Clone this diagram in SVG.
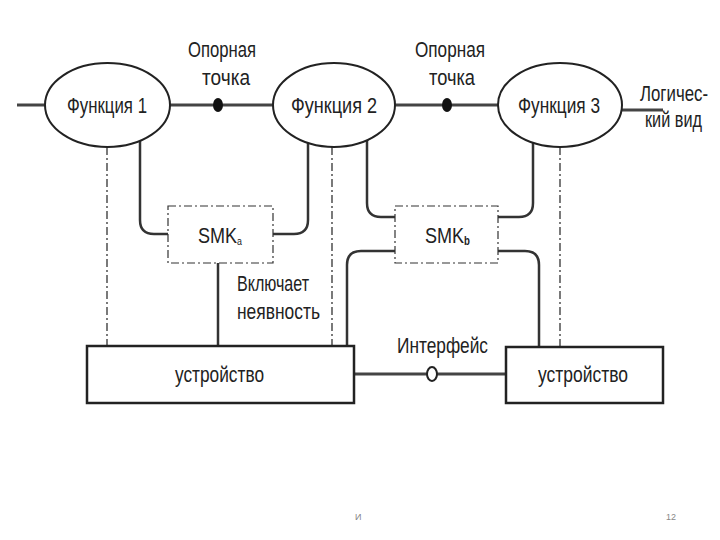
<svg xmlns="http://www.w3.org/2000/svg" width="720" height="540" viewBox="0 0 720 540">
<style>
.t{font-family:"Liberation Sans",Arial,sans-serif;font-size:22.5px;fill:#222;}
.node{fill:#fff;stroke:#222;stroke-width:2;}
.dev{fill:#fff;stroke:#222;stroke-width:2.5;}
.smk{fill:#fff;stroke:#333;stroke-width:1.2;stroke-dasharray:8 3 2 3;}
.w{fill:none;stroke:#333;stroke-width:2.5;}
.main{fill:none;stroke:#444;stroke-width:3;}
.dd{fill:none;stroke:#333;stroke-width:1.3;stroke-dasharray:8 3 2 3;}
.foot{font-family:"Liberation Sans",Arial,sans-serif;font-size:9px;fill:#888;}
</style>
<rect width="720" height="540" fill="#fff"/>
<g id="connectors">
<path class="main" d="M17,105 H45 M170,105 H273 M395,105 H498 M622,110 H663"/>
<ellipse cx="218" cy="105" rx="5" ry="7" fill="#111"/>
<ellipse cx="447" cy="105" rx="5" ry="7" fill="#111"/>
<path class="dd" d="M107,147 V346 M332,147 V346 M560,147 V347"/>
<path class="w" d="M140,141 V220 Q140,234 154,234 H168"/>
<path class="w" d="M273,234 H294 Q308,234 308,220 V143"/>
<path class="w" d="M367,140 V203 Q367,217 381,217 H395"/>
<path class="w" d="M498,217 H519 Q533,217 533,203 V143"/>
<path class="w" d="M395,251 H361 Q347,251 347,265 V346"/>
<path class="w" d="M498,251 H525 Q539,251 539,265 V347"/>
<path class="w" d="M218,263 V346"/>
<path class="main" d="M354,374 H427 M437,374 H506"/>
<ellipse cx="432" cy="374" rx="5" ry="7" fill="#fff" stroke="#222" stroke-width="2"/>
</g>
<g id="labels">
<text class="t" x="188" y="57" textLength="68" lengthAdjust="spacingAndGlyphs">Опорная</text>
<text class="t" x="202" y="85" textLength="48" lengthAdjust="spacingAndGlyphs">точка</text>
<text class="t" x="415" y="57" textLength="70" lengthAdjust="spacingAndGlyphs">Опорная</text>
<text class="t" x="429" y="85" textLength="46" lengthAdjust="spacingAndGlyphs">точка</text>
<text class="t" x="640" y="101" textLength="68" lengthAdjust="spacingAndGlyphs">Логичес-</text>
<text class="t" x="645" y="127" textLength="57" lengthAdjust="spacingAndGlyphs">кий вид</text>
<text class="t" x="237" y="291" textLength="72" lengthAdjust="spacingAndGlyphs">Включает</text>
<text class="t" x="237" y="319" textLength="83" lengthAdjust="spacingAndGlyphs">неявность</text>
<text class="t" x="397" y="353" textLength="91" lengthAdjust="spacingAndGlyphs">Интерфейс</text>
</g>
<g id="f1"><ellipse class="node" cx="107.5" cy="105" rx="62.5" ry="42"/>
<text class="t" x="67" y="113" textLength="80" lengthAdjust="spacingAndGlyphs">Функция 1</text></g>
<g id="f2"><ellipse class="node" cx="334" cy="105" rx="61" ry="42"/>
<text class="t" x="291" y="113" textLength="86" lengthAdjust="spacingAndGlyphs">Функция 2</text></g>
<g id="f3"><ellipse class="node" cx="560" cy="105" rx="62" ry="42"/>
<text class="t" x="518" y="113" textLength="82" lengthAdjust="spacingAndGlyphs">Функция 3</text></g>
<g id="smka"><rect class="smk" x="168" y="206" width="105" height="57"/>
<text class="t" x="198" y="243" textLength="44" lengthAdjust="spacingAndGlyphs">SMK<tspan dy="2" style="font-size:11px">a</tspan></text></g>
<g id="smkb"><rect class="smk" x="395" y="206" width="103" height="57"/>
<text class="t" x="425" y="243" textLength="45" lengthAdjust="spacingAndGlyphs">SMK<tspan dy="2" style="font-size:12px;font-weight:bold">b</tspan></text></g>
<g id="dev1"><rect class="dev" x="87" y="346" width="267" height="57"/>
<text class="t" x="175" y="382" textLength="89" lengthAdjust="spacingAndGlyphs">устройство</text></g>
<g id="dev2"><rect class="dev" x="506" y="347" width="157" height="56"/>
<text class="t" x="538" y="382" textLength="90" lengthAdjust="spacingAndGlyphs">устройство</text></g>
<text class="foot" x="355" y="520">И</text>
<text class="foot" x="666" y="520">12</text>
</svg>
